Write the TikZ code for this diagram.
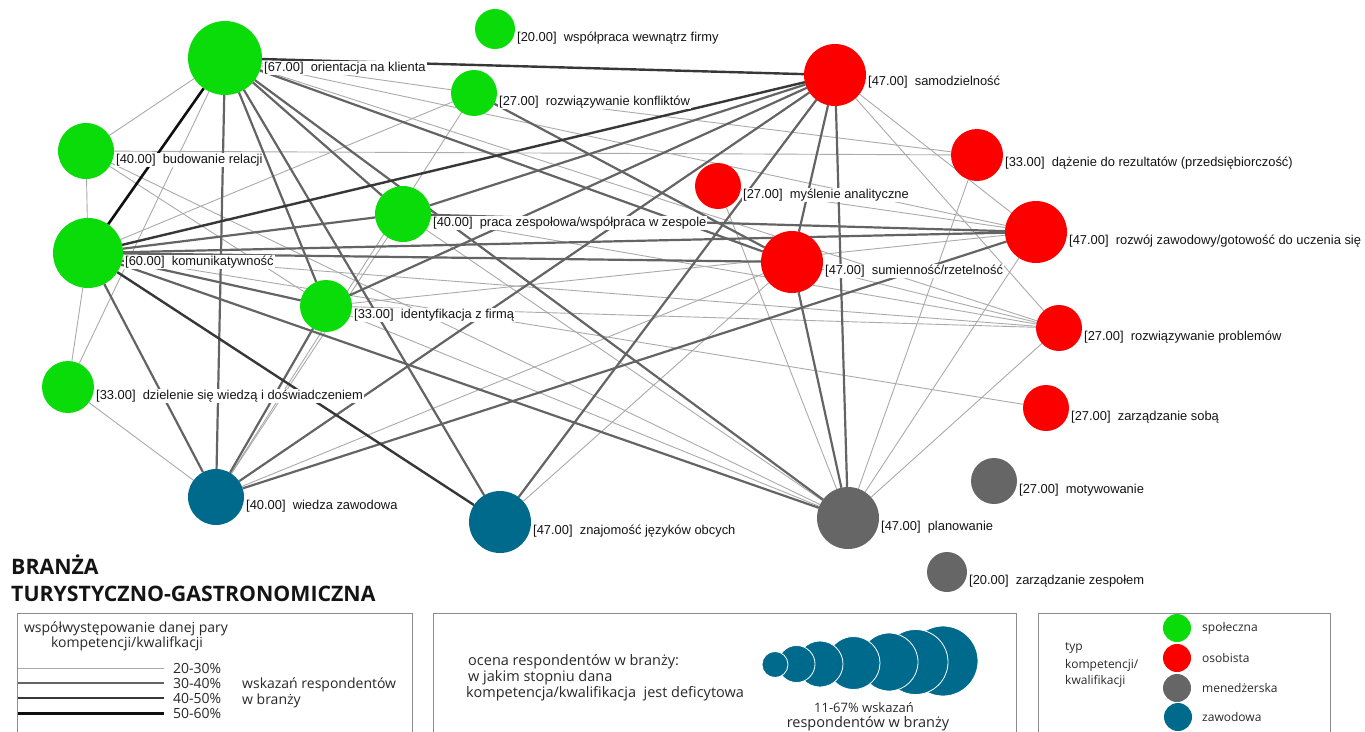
\documentclass[tikz,border=0pt]{standalone}
\usepackage{fontspec}
\setmainfont{Liberation Sans}
\newfontfamily\osans{Open Sans}
\definecolor{cg}{RGB}{10,220,10}
\definecolor{cr}{RGB}{252,0,0}
\definecolor{cm}{RGB}{102,102,102}
\definecolor{cz}{RGB}{0,106,140}
\definecolor{l1}{RGB}{170,170,170}
\definecolor{l2}{RGB}{100,100,100}
\definecolor{l3}{RGB}{55,55,55}
\definecolor{l4}{RGB}{15,15,15}
\definecolor{txt}{RGB}{20,20,20}
\definecolor{ltx}{RGB}{40,40,40}
\definecolor{bx}{RGB}{140,140,140}
\pgfdeclarelayer{bg}
\pgfsetlayers{bg,main}
\begin{document}
\begin{tikzpicture}[x=1pt,y=-1pt,
 nd/.style={circle,inner sep=0pt,outer sep=0pt,minimum size=#1},
 lb/.style={anchor=west,fill=white,inner sep=1pt,font=\fontsize{12.9}{14}\selectfont,text=txt},
 e1/.style={draw=l1,line width=0.9pt},
 e2/.style={draw=l2,line width=2.2pt},
 e3/.style={draw=l3,line width=2.4pt},
 e4/.style={draw=l4,line width=2.6pt},
 lg/.style={font=\osans\fontsize{14}{16}\selectfont,text=ltx,inner sep=0pt},
 lgm/.style={font=\osans\fontsize{14.5}{16}\selectfont,text=ltx,inner sep=0pt,anchor=west},
 lgs/.style={font=\osans\fontsize{12}{14}\selectfont,text=ltx,inner sep=0pt,anchor=west},
 box/.style={draw=bx,line width=1pt}]
\useasboundingbox (0,0) rectangle (1365,731);
% nodes
\node[nd=74pt,fill=cg] (OK) at (225,58) {};
\node[nd=40pt,fill=cg] (WW) at (495,29) {};
\node[nd=46pt,fill=cg] (RK) at (474,93) {};
\node[nd=62pt,fill=cr] (SA) at (835,75) {};
\node[nd=56pt,fill=cg] (BR) at (86,151) {};
\node[nd=52pt,fill=cr] (DR) at (977,155) {};
\node[nd=46pt,fill=cr] (MA) at (718,186) {};
\node[nd=56pt,fill=cg] (PZ) at (403,214) {};
\node[nd=70pt,fill=cg] (KO) at (88,253) {};
\node[nd=62pt,fill=cr] (RZ) at (1036,232) {};
\node[nd=62pt,fill=cr] (SU) at (792,262) {};
\node[nd=52pt,fill=cg] (IF) at (326,306) {};
\node[nd=46pt,fill=cr] (RP) at (1059,328) {};
\node[nd=52pt,fill=cg] (DW) at (68,387) {};
\node[nd=46pt,fill=cr] (ZS) at (1046,408) {};
\node[nd=46pt,fill=cm] (MO) at (994,481) {};
\node[nd=56pt,fill=cz] (WZ) at (216,497) {};
\node[nd=62pt,fill=cz] (JO) at (500,522) {};
\node[nd=62pt,fill=cm] (PL) at (848,518) {};
\node[nd=40pt,fill=cm] (ZZ) at (947,572) {};
% edges
\begin{pgfonlayer}{bg}
\foreach \a/\b in {OK/BR,OK/DW,OK/RK,OK/RZ,OK/RP,BR/KO,BR/DR,BR/IF,DW/KO,DW/WZ,WZ/SU,PZ/WZ,RK/WZ,JO/SU,MA/PL,DR/PL,RZ/PL,RP/PL,SA/RZ,SA/RP,KO/ZS,KO/RP,KO/RK,PZ/RP,IF/RP,IF/PL,PZ/PL,SU/RP,RK/DR,IF/RZ,MA/RZ,BR/PL}
  \draw[e1] (\a) -- (\b);
\foreach \a/\b in {OK/WZ,OK/IF,OK/JO,OK/PZ,OK/PL,OK/SU,KO/PZ,KO/SU,KO/RZ,KO/IF,KO/WZ,KO/PL,PZ/SA,IF/SA,WZ/SA,JO/SA,SA/SU,SA/PL,SU/PL,RK/SU,PZ/RZ,WZ/RZ,IF/WZ}
  \draw[e2] (\a) -- (\b);
\foreach \a/\b in {OK/SA,KO/SA,KO/JO}
  \draw[e3] (\a) -- (\b);
\draw[e4] (OK) -- (KO);
\end{pgfonlayer}
% labels
\node[lb] at ([shift={(1,10)}]OK.east) {[67.00]\ \ orientacja na klienta};
\node[lb] at ([shift={(1,9)}]WW.east) {[20.00]\ \ współpraca wewnątrz firmy};
\node[lb] at ([shift={(1,9)}]RK.east) {[27.00]\ \ rozwiązywanie konfliktów};
\node[lb] at ([shift={(1,7)}]SA.east) {[47.00]\ \ samodzielność};
\node[lb] at ([shift={(1,9)}]BR.east) {[40.00]\ \ budowanie relacji};
\node[lb] at ([shift={(1,8)}]DR.east) {[33.00]\ \ dążenie do rezultatów (przedsiębiorczość)};
\node[lb] at ([shift={(1,9)}]MA.east) {[27.00]\ \ myślenie analityczne};
\node[lb] at ([shift={(1,9)}]PZ.east) {[40.00]\ \ praca zespołowa/współpraca w zespole};
\node[lb] at ([shift={(1,9)}]KO.east) {[60.00]\ \ komunikatywność};
\node[lb] at ([shift={(1,9)}]RZ.east) {[47.00]\ \ rozwój zawodowy/gotowość do uczenia się};
\node[lb] at ([shift={(1,9)}]SU.east) {[47.00]\ \ sumienność/rzetelność};
\node[lb] at ([shift={(1,9)}]IF.east) {[33.00]\ \ identyfikacja z firmą};
\node[lb] at ([shift={(1,9)}]RP.east) {[27.00]\ \ rozwiązywanie problemów};
\node[lb] at ([shift={(1,9)}]DW.east) {[33.00]\ \ dzielenie się wiedzą i doświadczeniem};
\node[lb] at ([shift={(1,9)}]ZS.east) {[27.00]\ \ zarządzanie sobą};
\node[lb] at ([shift={(1,9)}]MO.east) {[27.00]\ \ motywowanie};
\node[lb] at ([shift={(1,9)}]WZ.east) {[40.00]\ \ wiedza zawodowa};
\node[lb] at ([shift={(1,9)}]JO.east) {[47.00]\ \ znajomość języków obcych};
\node[lb] at ([shift={(1,9)}]PL.east) {[47.00]\ \ planowanie};
\node[lb] at ([shift={(1,9)}]ZZ.east) {[20.00]\ \ zarządzanie zespołem};
% title
\node[anchor=base west,inner sep=0pt,font=\osans\bfseries\fontsize{21.3}{25}\selectfont,text=txt] (t1) at (11,574) {BRANŻA};
\node[anchor=base west,inner sep=0pt,font=\osans\bfseries\fontsize{21.3}{25}\selectfont,text=txt] (t2) at (11,601) {TURYSTYCZNO-GASTRONOMICZNA};
% legend boxes
\draw[box] (17,740) -- (17,613) -- (412,613) -- (412,740);
\draw[box] (433,740) -- (433,613) -- (1016,613) -- (1016,740);
\draw[box] (1038,740) -- (1038,613) -- (1330,613) -- (1330,740);
% box 1
\node[lg] (w1) at (126,629) {współwystępowanie danej pary};
\node[lg] (w2) at (127,644) {kompetencji/kwalifkacji};
\draw[e1,line width=1pt] (18,668) -- (164,668);
\draw[draw=l2,line width=2pt] (18,683) -- (164,683);
\draw[draw=l3,line width=2.6pt] (18,698) -- (164,698);
\draw[draw=l4,line width=3pt] (18,713) -- (164,713);
\node[lg,anchor=west] (p1) at (173,668) {20-30\%};
\node[lg,anchor=west] (p2) at (173,683) {30-40\%};
\node[lg,anchor=west] (p3) at (173,698) {40-50\%};
\node[lg,anchor=west] (p4) at (173,713) {50-60\%};
\node[lg,anchor=west] (w3) at (242,685) {wskazań respondentów};
\node[lg,anchor=west] (w4) at (242,701) {w branży};
% box 2
\node[lgm] (o1) at (468,662) {ocena respondentów w branży:};
\node[lgm] (o2) at (468,678) {w jakim stopniu dana};
\node[lgm] (o3) at (466,694) {kompetencja/kwalifikacja\ \ jest deficytowa};
\node[nd=70pt,fill=cz,draw=white,line width=0.8pt] (b7) at (943,661) {};
\node[nd=65pt,fill=cz,draw=white,line width=0.8pt] (b6) at (915.5,662) {};
\node[nd=58pt,fill=cz,draw=white,line width=0.8pt] (b5) at (889,662) {};
\node[nd=53pt,fill=cz,draw=white,line width=0.8pt] (b4) at (853.5,663) {};
\node[nd=46pt,fill=cz,draw=white,line width=0.8pt] (b3) at (820,664) {};
\node[nd=37pt,fill=cz,draw=white,line width=0.8pt] (b2) at (796.5,664) {};
\node[nd=26pt,fill=cz,draw=white,line width=0.8pt] (b1) at (775,664.5) {};
\node[lg,font=\osans\fontsize{13}{16}\selectfont] (o4) at (864,708) {11-67\% wskazań};
\node[lg,font=\osans\fontsize{14.5}{16}\selectfont] (o5) at (868,724) {respondentów w branży};
% box 3
\node[lgs] (y1) at (1065,648) {typ};
\node[lgs] (y2) at (1065,665) {kompetencji/};
\node[lgs] (y3) at (1065,681) {kwalifikacji};
\node[nd=28pt,fill=cg] (c1) at (1177,628) {};
\node[nd=28pt,fill=cr] (c2) at (1177,658) {};
\node[nd=28pt,fill=cm] (c3) at (1177,688) {};
\node[nd=28pt,fill=cz] (c4) at (1178,717) {};
\node[lgs] (k1) at (1202,628) {społeczna};
\node[lgs] (k2) at (1202,658) {osobista};
\node[lgs] (k3) at (1202,688) {menedżerska};
\node[lgs] (k4) at (1202,717) {zawodowa};
\end{tikzpicture}
\end{document}
